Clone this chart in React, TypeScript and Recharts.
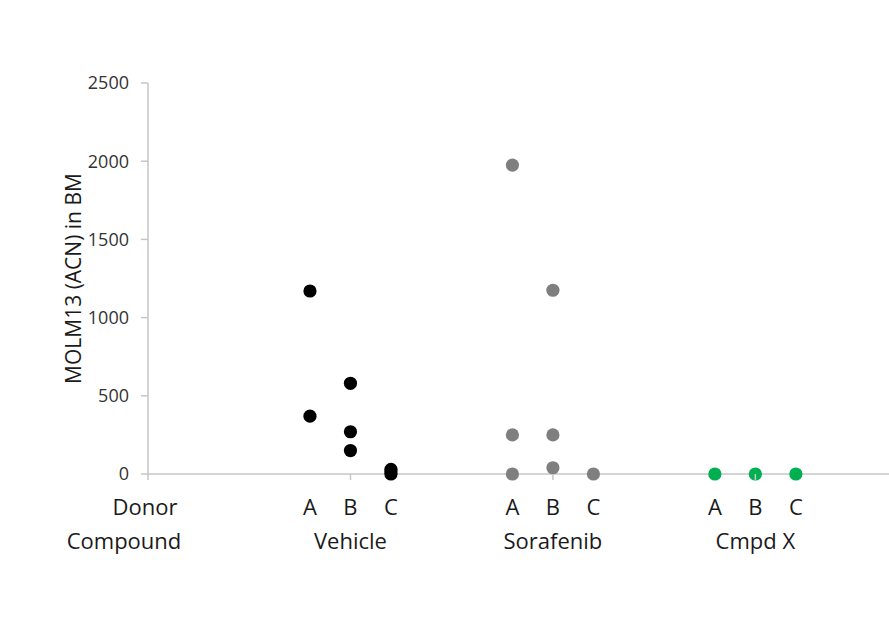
import React from 'react';
import { ScatterChart, Scatter, XAxis, YAxis } from 'recharts';

// Donors within each compound group, and the compound groups themselves
const donors = ['A', 'B', 'C'];
const compounds = ['Vehicle', 'Sorafenib', 'Cmpd X'];
// x position of donor A for each compound group
const groupStarts = [4, 9, 14];
const xTicks = [0, 4, 5, 6, 9, 10, 11, 14, 15, 16];
const yTicks = [0, 500, 1000, 1500, 2000, 2500];

// MOLM13 (ACN) in BM per donor
const vehicleA = [1170, 370];
const vehicleB = [580, 270, 150];
const vehicleC = [30, 15, 0];
const sorafenibA = [1975, 250, 0];
const sorafenibB = [1175, 250, 40];
const sorafenibC = [0];
const cmpdXA = [0];
const cmpdXB = [0];
const cmpdXC = [0];

const toPoints = (group: number, perDonor: number[][]) =>
  perDonor.flatMap((vals, d) => vals.map((v) => ({ x: groupStarts[group] + d, y: v })));

const vehicleData = toPoints(0, [vehicleA, vehicleB, vehicleC]);
const sorafenibData = toPoints(1, [sorafenibA, sorafenibB, sorafenibC]);
const cmpdXData = toPoints(2, [cmpdXA, cmpdXB, cmpdXC]);

const AXIS = '#c6c6c6';
const TEXT = '#1a1a1a';
const FONT = '"Open Sans", sans-serif';
const CAT_SIZE = 22;

const dot = (fill: string) => (props: any) =>
  <circle cx={props.cx} cy={props.cy} r={6.6} fill={fill} />;

const CategoryTick = (props: any) => {
  const { x, y, payload } = props;
  const v = payload.value as number;
  const parts: React.ReactNode[] = [];
  if (v % 5 === 0) {
    parts.push(<line key="t" x1={x} x2={x} y1={y} y2={y + 6} stroke={AXIS} strokeWidth={1.5} />);
  }
  if (v === 0) {
    parts.push(
      <text key="d" x={x - 3} y={y + 32} textAnchor="middle" dominantBaseline="central" fill={TEXT} fontSize={CAT_SIZE} fontFamily={FONT}>Donor</text>,
      <text key="c" x={x - 24} y={y + 66} textAnchor="middle" dominantBaseline="central" fill={TEXT} fontSize={CAT_SIZE} fontFamily={FONT}>Compound</text>
    );
  } else {
    const g = groupStarts.findIndex((s) => v >= s && v < s + donors.length);
    const d = v - groupStarts[g];
    parts.push(
      <text key="l" x={x} y={y + 32} textAnchor="middle" dominantBaseline="central" fill={TEXT} fontSize={CAT_SIZE} fontFamily={FONT}>{donors[d]}</text>
    );
    if (d === 1) {
      parts.push(
        <text key="g" x={x} y={y + 66} textAnchor="middle" dominantBaseline="central" fill={TEXT} fontSize={CAT_SIZE} fontFamily={FONT}>{compounds[g]}</text>
      );
    }
  }
  return <g>{parts}</g>;
};

const YTitle = (props: any) => {
  const vb = props.viewBox || { y: 83, height: 391 };
  const cx = 73;
  const cy = vb.y + vb.height / 2;
  return (
    <text x={cx} y={cy} transform={`rotate(-90 ${cx} ${cy})`} textAnchor="middle" dominantBaseline="central" fill={TEXT} fontSize={21} fontFamily={FONT}>
      MOLM13 (ACN) in BM
    </text>
  );
};

export default function App() {
  return (
    <div style={{ position: 'absolute', left: 0, top: 0, background: '#fff' }}>
      <ScatterChart width={889} height={626} margin={{ top: 83, right: 0, bottom: 0, left: 0 }}>
        <XAxis
          type="number"
          dataKey="x"
          domain={[0, 18.3]}
          ticks={xTicks}
          interval={0}
          allowDataOverflow
          tickLine={false}
          tickSize={0}
          tickMargin={0}
          height={152}
          axisLine={{ stroke: AXIS, strokeWidth: 1.5 }}
          tick={<CategoryTick />}
        />
        <YAxis
          type="number"
          dataKey="y"
          domain={[0, 2500]}
          ticks={yTicks}
          interval={0}
          width={148}
          tickSize={7}
          tickMargin={12}
          axisLine={{ stroke: AXIS, strokeWidth: 1.5 }}
          tickLine={{ stroke: AXIS, strokeWidth: 1.5 }}
          tick={{ fill: '#333333', fontSize: 18, fontFamily: FONT }}
          label={<YTitle />}
        />
        <Scatter data={vehicleData} fill="#000000" shape={dot('#000000')} isAnimationActive={false} />
        <Scatter data={sorafenibData} fill="#7f7f7f" shape={dot('#7f7f7f')} isAnimationActive={false} />
        <Scatter data={cmpdXData} fill="#00b050" shape={dot('#00b050')} isAnimationActive={false} />
      </ScatterChart>
    </div>
  );
}
